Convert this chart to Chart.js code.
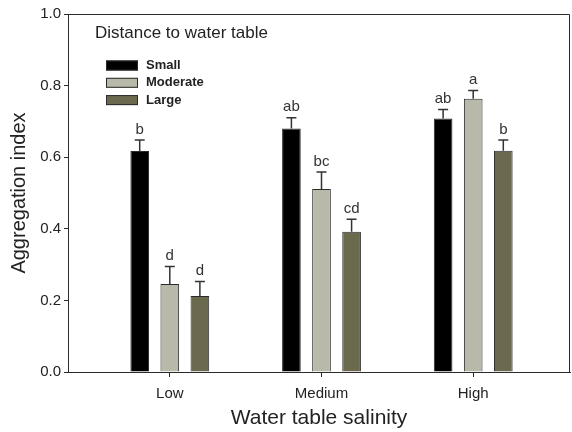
<!DOCTYPE html>
<html>
<head>
<meta charset="utf-8">
<script src="https://cdn.jsdelivr.net/npm/chart.js@4.4.1/dist/chart.umd.min.js"></script>
<style>
  body { margin: 0; background: #fff; }
  canvas { display: block; }
</style>
</head>
<body>
<canvas id="myChart" width="572" height="432"></canvas>
<script>
const categories = ['Low', 'Medium', 'High'];
const positions = [1, 2, 3];
const seriesNames = ['Small', 'Moderate', 'Large'];
const smallValues = [0.617, 0.680, 0.708];
const moderateValues = [0.246, 0.511, 0.763];
const largeValues = [0.212, 0.392, 0.618];
const smallErrors = [0.031, 0.030, 0.025];
const moderateErrors = [0.049, 0.048, 0.023];
const largeErrors = [0.041, 0.035, 0.030];
const smallLetters = ['b', 'ab', 'ab'];
const moderateLetters = ['d', 'bc', 'a'];
const largeLetters = ['d', 'cd', 'b'];
const yTicks = [0, 0.2, 0.4, 0.6, 0.8, 1.0];

const fills = ['#000000', '#b9b9aa', '#6b6a4f'];
const edge = '#2b2b2b';
const fontName = "'Liberation Sans', Arial, sans-serif";

function makeSet(label, values, errors, letters, color) {
  return {
    label: label,
    data: values.map((v, i) => ({ x: positions[i], y: v })),
    errors: errors,
    letters: letters,
    backgroundColor: color,
    borderColor: edge,
    borderWidth: 1,
    borderSkipped: 'bottom',
    categoryPercentage: 0.595,
    barPercentage: 0.62
  };
}

// error bars and letters over each bar
const errorBars = {
  id: 'errorBars',
  afterDatasetsDraw(chart) {
    const ctx = chart.ctx;
    const yScale = chart.scales.y;
    ctx.save();
    chart.data.datasets.forEach((set, d) => {
      const meta = chart.getDatasetMeta(d);
      meta.data.forEach((bar, i) => {
        const top = yScale.getPixelForValue(set.data[i].y + set.errors[i]);
        ctx.strokeStyle = '#333';
        ctx.lineWidth = 1.5;
        ctx.beginPath();
        ctx.moveTo(bar.x, bar.y);
        ctx.lineTo(bar.x, top);
        ctx.moveTo(bar.x - 5, top);
        ctx.lineTo(bar.x + 5, top);
        ctx.stroke();
        ctx.fillStyle = '#333';
        ctx.font = '15px ' + fontName;
        ctx.textAlign = 'center';
        ctx.textBaseline = 'bottom';
        ctx.fillText(set.letters[i], bar.x, top - 3);
      });
    });
    ctx.restore();
  }
};

// box round the plot and the legend in the corner
const frameAndLegend = {
  id: 'frameAndLegend',
  afterDraw(chart) {
    const ctx = chart.ctx;
    const a = chart.chartArea;
    ctx.save();
    ctx.strokeStyle = edge;
    ctx.lineWidth = 1;
    ctx.beginPath();
    ctx.moveTo(a.left, a.top + 0.5);
    ctx.lineTo(a.right - 0.5, a.top + 0.5);
    ctx.lineTo(a.right - 0.5, a.bottom);
    ctx.stroke();

    ctx.fillStyle = '#222';
    ctx.font = '17px ' + fontName;
    ctx.textAlign = 'left';
    ctx.textBaseline = 'middle';
    ctx.fillText('Distance to water table', 95, 33);

    ctx.font = 'bold 13px ' + fontName;
    chart.data.datasets.forEach((set, i) => {
      const cy = 65.5 + i * 17.3;
      ctx.fillStyle = set.backgroundColor;
      ctx.fillRect(106, cy - 5, 32, 10);
      ctx.strokeStyle = edge;
      ctx.strokeRect(106.5, cy - 4.5, 31, 9);
      ctx.fillStyle = '#222';
      ctx.fillText(set.label, 146, cy);
    });
    ctx.restore();
  }
};

const config = {
  type: 'bar',
  data: {
    datasets: [
      makeSet(seriesNames[0], smallValues, smallErrors, smallLetters, fills[0]),
      makeSet(seriesNames[1], moderateValues, moderateErrors, moderateLetters, fills[1]),
      makeSet(seriesNames[2], largeValues, largeErrors, largeLetters, fills[2])
    ]
  },
  options: {
    responsive: false,
    devicePixelRatio: 1,
    animation: false,
    layout: { padding: { top: 14, right: 2, left: 0, bottom: 0 } },
    plugins: { legend: { display: false }, tooltip: { enabled: false } },
    scales: {
      x: {
        type: 'linear',
        offset: false,
        min: 0.329,
        max: 3.638,
        afterBuildTicks: (axis) => { axis.ticks = positions.map((v) => ({ value: v })); },
        afterFit: (axis) => { axis.height = 60; },
        ticks: {
          callback: (value) => categories[positions.indexOf(value)],
          color: '#222',
          font: { family: fontName, size: 15 },
          padding: 8,
          maxRotation: 0
        },
        grid: { offset: false, drawOnChartArea: false, drawTicks: true, tickLength: 5, tickColor: edge },
        border: { display: true, color: edge, width: 1 },
        title: {
          display: true,
          text: 'Water table salinity',
          color: '#222',
          font: { family: fontName, size: 21 },
          padding: { top: 0, bottom: 1 }
        }
      },
      y: {
        min: 0,
        max: 1,
        afterBuildTicks: (axis) => { axis.ticks = yTicks.map((v) => ({ value: v })); },
        afterFit: (axis) => { axis.width = 68; },
        ticks: {
          callback: (value) => value.toFixed(1),
          color: '#222',
          font: { family: fontName, size: 15 },
          padding: 3
        },
        grid: { drawOnChartArea: false, drawTicks: true, tickLength: 4, tickColor: edge },
        border: { display: true, color: edge, width: 1 },
        title: {
          display: true,
          text: 'Aggregation index',
          color: '#222',
          font: { family: fontName, size: 20 },
          padding: { top: 7, bottom: 0 }
        }
      }
    }
  },
  plugins: [errorBars, frameAndLegend]
};

document.addEventListener('DOMContentLoaded', () => {
  new Chart(document.querySelector('#myChart'), config);
});
</script>
</body>
</html>
